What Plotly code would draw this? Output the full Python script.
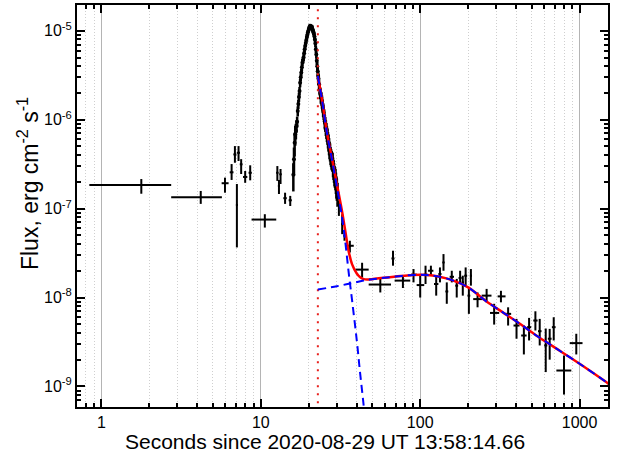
import plotly.graph_objects as go
import math

# ---------------- data ----------------
# early, coarsely binned points
early_t = [1.78, 4.2, 5.96, 6.56, 6.88, 7.25, 7.53, 7.08, 7.98, 8.58, 10.6, 12.7, 13.3, 13.0, 14.2, 15.3]
early_t_lo = [0.84, 2.74, 5.68, 6.38, 6.73, 7.10, 7.38, 6.98, 7.73, 8.38, 8.75, 12.5, 13.1, 12.8, 13.85, 14.95]
early_t_hi = [2.74, 5.70, 6.28, 6.74, 7.03, 7.40, 7.68, 7.18, 8.23, 8.78, 12.5, 12.9, 13.5, 13.2, 14.55, 15.65]
early_f = [1.84e-7, 1.34e-7, 1.93e-7, 2.56e-7, 4.07e-7, 4.25e-7, 3.15e-7, 1.10e-7, 2.27e-7, 2.53e-7,
           7.53e-8, 2.53e-7, 2.43e-7, 1.80e-7, 1.31e-7, 1.24e-7]
early_f_lo = [1.47e-7, 1.13e-7, 1.51e-7, 2.10e-7, 3.28e-7, 3.43e-7, 2.45e-7, 3.66e-8, 1.95e-7, 2.08e-7,
              6.12e-8, 2.05e-7, 1.89e-7, 1.46e-7, 1.13e-7, 1.07e-7]
early_f_hi = [2.15e-7, 1.58e-7, 2.23e-7, 3.17e-7, 5.05e-7, 5.05e-7, 3.60e-7, 1.89e-7, 2.65e-7, 3.07e-7,
              8.65e-8, 3.01e-7, 2.79e-7, 2.10e-7, 1.51e-7, 1.39e-7]

# dense light curve of the main pulse
dense_t = [16.0, 16.15, 16.3, 16.45, 16.6, 16.75, 16.9, 17.05, 17.2, 17.35, 17.5, 17.65, 17.8, 17.95,
           18.1, 18.25, 18.4, 18.55, 18.7, 18.85, 19.0, 19.15, 19.3, 19.45, 19.6, 19.75, 19.9, 20.05,
           20.2, 20.35, 20.5, 20.65, 20.8, 20.95, 21.1, 21.25, 21.4, 21.55, 21.7, 21.85, 22.0, 22.15,
           22.3, 22.45, 22.6, 22.75, 22.9, 23.0, 23.2, 23.4, 23.6, 23.8, 24.0, 24.2, 24.4, 24.6, 24.8,
           25.0, 25.2, 25.4, 25.6, 25.8, 26.0, 26.2, 26.4, 26.6, 26.8, 27.0, 27.2, 27.4, 27.6, 27.8,
           28.0, 28.2, 28.4, 28.6, 28.8, 29.0, 29.2, 29.4, 29.6, 29.8, 30.0, 30.3]
dense_f = [2.4e-7, 3.6e-7, 5.5e-7, 6.8e-7, 7.5e-7, 8.5e-7, 9.5e-7, 1.25e-6, 1.5e-6, 1.8e-6, 2.1e-6,
           2.6e-6, 3.0e-6, 3.4e-6, 3.9e-6, 4.4e-6, 4.7e-6, 5.0e-6, 5.6e-6, 6.2e-6, 6.8e-6, 7.3e-6,
           7.9e-6, 8.5e-6, 9.0e-6, 9.6e-6, 1.0e-5, 1.06e-5, 1.1e-5, 1.13e-5, 1.09e-5, 1.12e-5, 1.07e-5,
           1.1e-5, 1.04e-5, 1.0e-5, 9.6e-6, 9.2e-6, 8.6e-6, 8.0e-6, 7.2e-6, 6.2e-6, 5.4e-6, 4.6e-6,
           4.0e-6, 3.5e-6, 3.1e-6, 2.9e-6, 2.5e-6, 2.2e-6, 2.0e-6, 1.8e-6, 1.75e-6, 1.6e-6, 1.45e-6,
           1.3e-6, 1.2e-6, 1.1e-6, 9.6e-7, 9.0e-7, 8.2e-7, 7.6e-7, 7.0e-7, 6.6e-7, 6.0e-7, 5.6e-7,
           5.1e-7, 4.6e-7, 4.4e-7, 4.0e-7, 3.8e-7, 3.6e-7, 3.5e-7, 3.4e-7, 3.0e-7, 2.8e-7, 2.6e-7,
           2.4e-7, 2.3e-7, 2.2e-7, 2.0e-7, 1.8e-7, 1.7e-7, 1.5e-7]
dense_relerr = [0.35, 0.35, 0.3, 0.25, 0.2, 0.16, 0.14, 0.13, 0.12, 0.12, 0.11, 0.11, 0.1, 0.1, 0.1,
                0.09, 0.09, 0.09, 0.08, 0.08, 0.08, 0.08, 0.07, 0.07, 0.07, 0.07, 0.06, 0.06, 0.06,
                0.06, 0.06, 0.06, 0.06, 0.06, 0.06, 0.07, 0.07, 0.07, 0.08, 0.08, 0.09, 0.1, 0.1,
                0.11, 0.12, 0.12, 0.13, 0.14, 0.14, 0.15, 0.15, 0.16, 0.16, 0.17, 0.17, 0.18, 0.18,
                0.18, 0.19, 0.19, 0.2, 0.2, 0.2, 0.21, 0.21, 0.22, 0.22, 0.22, 0.23, 0.23, 0.23, 0.24,
                0.24, 0.24, 0.25, 0.25, 0.25, 0.26, 0.26, 0.27, 0.27, 0.28, 0.28, 0.3]
dense_halfbin = [0.1] * 47 + [0.25] * 10 + [0.35] * 15 + [0.45] * 12

# later binned points
late_t = [30.9, 32.4, 33.5, 36.2, 43.2, 56.2, 67.5, 77.9, 90.8, 100, 108, 116.7, 126, 133, 140, 146.8,
          157.8, 169.5, 178, 185, 192.8, 202, 208, 229, 261, 291, 321, 356, 402, 447, 482, 528, 562,
          613, 649, 688, 798, 953]
late_t_lo = [30.5, 32.0, 33.1, 34.0, 39.2, 47.5, 66, 69.1, 87.5, 95, 105, 112, 122, 130, 138, 144,
             153, 166, 174, 182, 189, 198, 205, 215, 243, 274, 306, 340, 385, 430, 468, 512, 548,
             600, 632, 670, 715, 867]
late_t_hi = [31.3, 32.8, 33.9, 38.3, 47.5, 65.6, 69, 86.6, 95.3, 106, 111, 121, 130, 136, 142, 150,
             163, 173, 182, 188, 197, 206, 211, 246, 280, 313, 343, 372, 420, 465, 497, 545, 577,
             627, 667, 707, 887, 1043]
late_f = [1.03e-7, 6.67e-8, 4.94e-8, 3.82e-8, 2.06e-8, 1.40e-8, 2.75e-8, 1.55e-8, 1.81e-8, 1.38e-8,
          1.81e-8, 2.00e-8, 1.42e-8, 1.84e-8, 2.48e-8, 1.17e-8, 1.71e-8, 1.36e-8, 1.66e-8, 1.48e-8,
          1.76e-8, 1.05e-8, 1.76e-8, 9.6e-9, 1.05e-8, 6.71e-9, 1.03e-8, 6.55e-9, 4.84e-9, 3.74e-9,
          4.64e-9, 5.51e-9, 4.18e-9, 2.89e-9, 3.44e-9, 4.64e-9, 1.51e-9, 3.07e-9]
late_f_lo = [8.28e-8, 5.16e-8, 4.35e-8, 3.21e-8, 1.68e-8, 1.14e-8, 2.28e-8, 1.28e-8, 1.48e-8, 1.00e-8,
             1.42e-8, 1.76e-8, 1.05e-8, 1.48e-8, 2.00e-8, 8.5e-9, 1.48e-8, 1.00e-8, 1.42e-8, 1.05e-8,
             1.36e-8, 6.55e-9, 1.36e-8, 7.76e-9, 8.83e-9, 4.96e-9, 8.83e-9, 4.84e-9, 3.44e-9, 2.29e-9,
             3.29e-9, 4.26e-9, 2.89e-9, 1.45e-9, 2.00e-9, 3.29e-9, 8.1e-10, 2.29e-9]
late_f_hi = [1.22e-7, 8.65e-8, 5.38e-8, 4.35e-8, 2.46e-8, 1.67e-8, 3.36e-8, 1.76e-8, 2.09e-8, 1.76e-8,
             2.28e-8, 2.28e-8, 1.76e-8, 2.18e-8, 3.08e-8, 1.48e-8, 2.00e-8, 1.62e-8, 2.00e-8, 1.76e-8,
             2.18e-8, 1.30e-8, 2.09e-8, 1.14e-8, 1.25e-8, 8.5e-9, 1.19e-8, 7.76e-9, 5.75e-9, 4.84e-9,
             5.9e-9, 7.0e-9, 5.75e-9, 4.48e-9, 4.44e-9, 6.0e-9, 2.23e-9, 3.91e-9]

# model curves
model_t = [22.8, 24.3, 26.1, 28.1, 30.1, 32.4, 34.0, 35.6, 37.4, 40.0, 42.0, 44.2, 48, 55, 70, 90,
           110, 130, 161.5, 200, 261, 330, 422, 540, 681, 1000, 1468, 1600]
model_f = [3.1e-6, 1.61e-6, 6.9e-7, 3.5e-7, 1.83e-7, 9.1e-8, 5.4e-8, 3.3e-8, 2.36e-8, 1.86e-8,
           1.69e-8, 1.61e-8, 1.6e-8, 1.65e-8, 1.72e-8, 1.79e-8, 1.79e-8, 1.72e-8, 1.55e-8, 1.30e-8,
           9.0e-9, 6.8e-9, 5.06e-9, 3.7e-9, 2.82e-9, 1.8e-9, 1.12e-9, 1.0e-9]
comp1_t = [22.8, 24.3, 26.1, 28.1, 30.1, 32.4, 34.0, 35.6, 37.4, 40.0, 42.0, 44.2, 46.0]
comp1_f = [3.1e-6, 1.6e-6, 6.8e-7, 3.4e-7, 1.7e-7, 7.8e-8, 4.0e-8, 1.9e-8, 9.2e-9, 3.3e-9, 1.4e-9,
           6.1e-10, 3.0e-10]
comp2_t = [22.8, 30, 36.5, 44.2, 55, 70, 90, 110, 130, 161.5, 200, 261, 330, 422, 540, 681, 1000,
           1468, 1600]
comp2_f = [1.23e-8, 1.34e-8, 1.44e-8, 1.55e-8, 1.64e-8, 1.72e-8, 1.79e-8, 1.79e-8, 1.72e-8, 1.55e-8,
           1.30e-8, 9.0e-9, 6.8e-9, 5.06e-9, 3.7e-9, 2.82e-9, 1.8e-9, 1.12e-9, 1.0e-9]

t_ref = 22.8  # dotted vertical line

x_major = [1, 10, 100, 1000]
x_major_text = ["1", "10", "100", "1000"]
y_major = [1e-9, 1e-8, 1e-7, 1e-6, 1e-5]
y_major_text = ["10<sup>-9</sup>", "10<sup>-8</sup>", "10<sup>-7</sup>", "10<sup>-6</sup>", "10<sup>-5</sup>"]

x_range = [0.703, 1507]
y_range = [5.87e-10, 1.95e-5]

# ---------------- figure ----------------
FONT = "Liberation Sans, Arial, sans-serif"
fig = go.Figure()


def err_trace(t, f, tlo, thi, flo, fhi, thick, msize=2):
    return go.Scatter(
        x=t, y=f, mode="markers",
        marker=dict(size=msize, color="black"),
        error_x=dict(type="data", symmetric=False,
                     array=[h - v for h, v in zip(thi, t)],
                     arrayminus=[v - l for v, l in zip(t, tlo)],
                     color="black", thickness=thick, width=0),
        error_y=dict(type="data", symmetric=False,
                     array=[h - v for h, v in zip(fhi, f)],
                     arrayminus=[v - l for v, l in zip(f, flo)],
                     color="black", thickness=thick, width=0),
        showlegend=False, hoverinfo="skip")


fig.add_trace(err_trace(early_t, early_f, early_t_lo, early_t_hi, early_f_lo, early_f_hi, 2))
fig.add_trace(err_trace(late_t, late_f, late_t_lo, late_t_hi, late_f_lo, late_f_hi, 2))
fig.add_trace(err_trace(dense_t, dense_f,
                        [t - h for t, h in zip(dense_t, dense_halfbin)],
                        [t + h for t, h in zip(dense_t, dense_halfbin)],
                        [f * (1 - e) for f, e in zip(dense_f, dense_relerr)],
                        [f * (1 + e) for f, e in zip(dense_f, dense_relerr)], 2.5, msize=4))

fig.add_trace(go.Scatter(x=[t_ref, t_ref], y=[1e-10, 1e-4], mode="lines",
                         line=dict(color="#e8201c", width=2, dash="2px,6px"),
                         showlegend=False, hoverinfo="skip"))
fig.add_trace(go.Scatter(x=model_t, y=model_f, mode="lines", line_shape="spline",
                         line=dict(color="#ff0000", width=2.5), showlegend=False, hoverinfo="skip"))
fig.add_trace(go.Scatter(x=comp1_t, y=comp1_f, mode="lines", line_shape="spline",
                         line=dict(color="#0000ff", width=2, dash="8px,5px"),
                         showlegend=False, hoverinfo="skip"))
fig.add_trace(go.Scatter(x=comp2_t, y=comp2_f, mode="lines", line_shape="spline",
                         line=dict(color="#0000ff", width=2, dash="8px,5px"),
                         showlegend=False, hoverinfo="skip"))

x_minor = [m * 10 ** d for d in range(-1, 4) for m in range(2, 10)]
y_minor = [m * 10 ** d for d in range(-10, -4) for m in range(2, 10)]

fig.update_layout(
    width=622, height=462,
    margin=dict(l=77, r=14, t=3, b=55),
    paper_bgcolor="white", plot_bgcolor="white",
    font=dict(family=FONT, size=16, color="black"),
    xaxis=dict(type="log", range=[math.log10(x_range[0]), math.log10(x_range[1])],
               tickmode="array", tickvals=x_major, ticktext=x_major_text,
               ticks="inside", ticklen=8, tickwidth=2, tickcolor="black",
               showline=True, linecolor="black", linewidth=2, mirror="allticks",
               showgrid=True, gridcolor="#b4b4b4", gridwidth=1,
               minor=dict(tickmode="array", tickvals=x_minor, ticks="inside", ticklen=4,
                          tickwidth=1.5, tickcolor="black", showgrid=True,
                          gridcolor="#cfcfcf", griddash="1px,2px", gridwidth=1),
               zeroline=False, tickfont=dict(size=16)),
    yaxis=dict(type="log", range=[math.log10(y_range[0]), math.log10(y_range[1])],
               tickmode="array", tickvals=y_major, ticktext=y_major_text,
               ticks="inside", ticklen=8, tickwidth=2, tickcolor="black",
               showline=True, linecolor="black", linewidth=2, mirror="allticks",
               showgrid=False,
               minor=dict(tickmode="array", tickvals=y_minor, ticks="inside", ticklen=4,
                          tickwidth=1.5, tickcolor="black", showgrid=False),
               zeroline=False, tickfont=dict(size=16)),
    annotations=[
        dict(text="Seconds since 2020-08-29 UT 13:58:14.66", xref="paper", yref="paper",
             x=0.4665, y=-0.085, xanchor="center", yanchor="middle", showarrow=False,
             font=dict(size=21, family=FONT)),
        dict(text="Flux, erg cm<sup>-2</sup> s<sup>-1</sup>", xref="paper", yref="paper",
             x=-0.092, y=0.555, xanchor="center", yanchor="middle", showarrow=False,
             textangle=-90, font=dict(size=23, family=FONT)),
    ],
)

fig.write_html("out.html")
